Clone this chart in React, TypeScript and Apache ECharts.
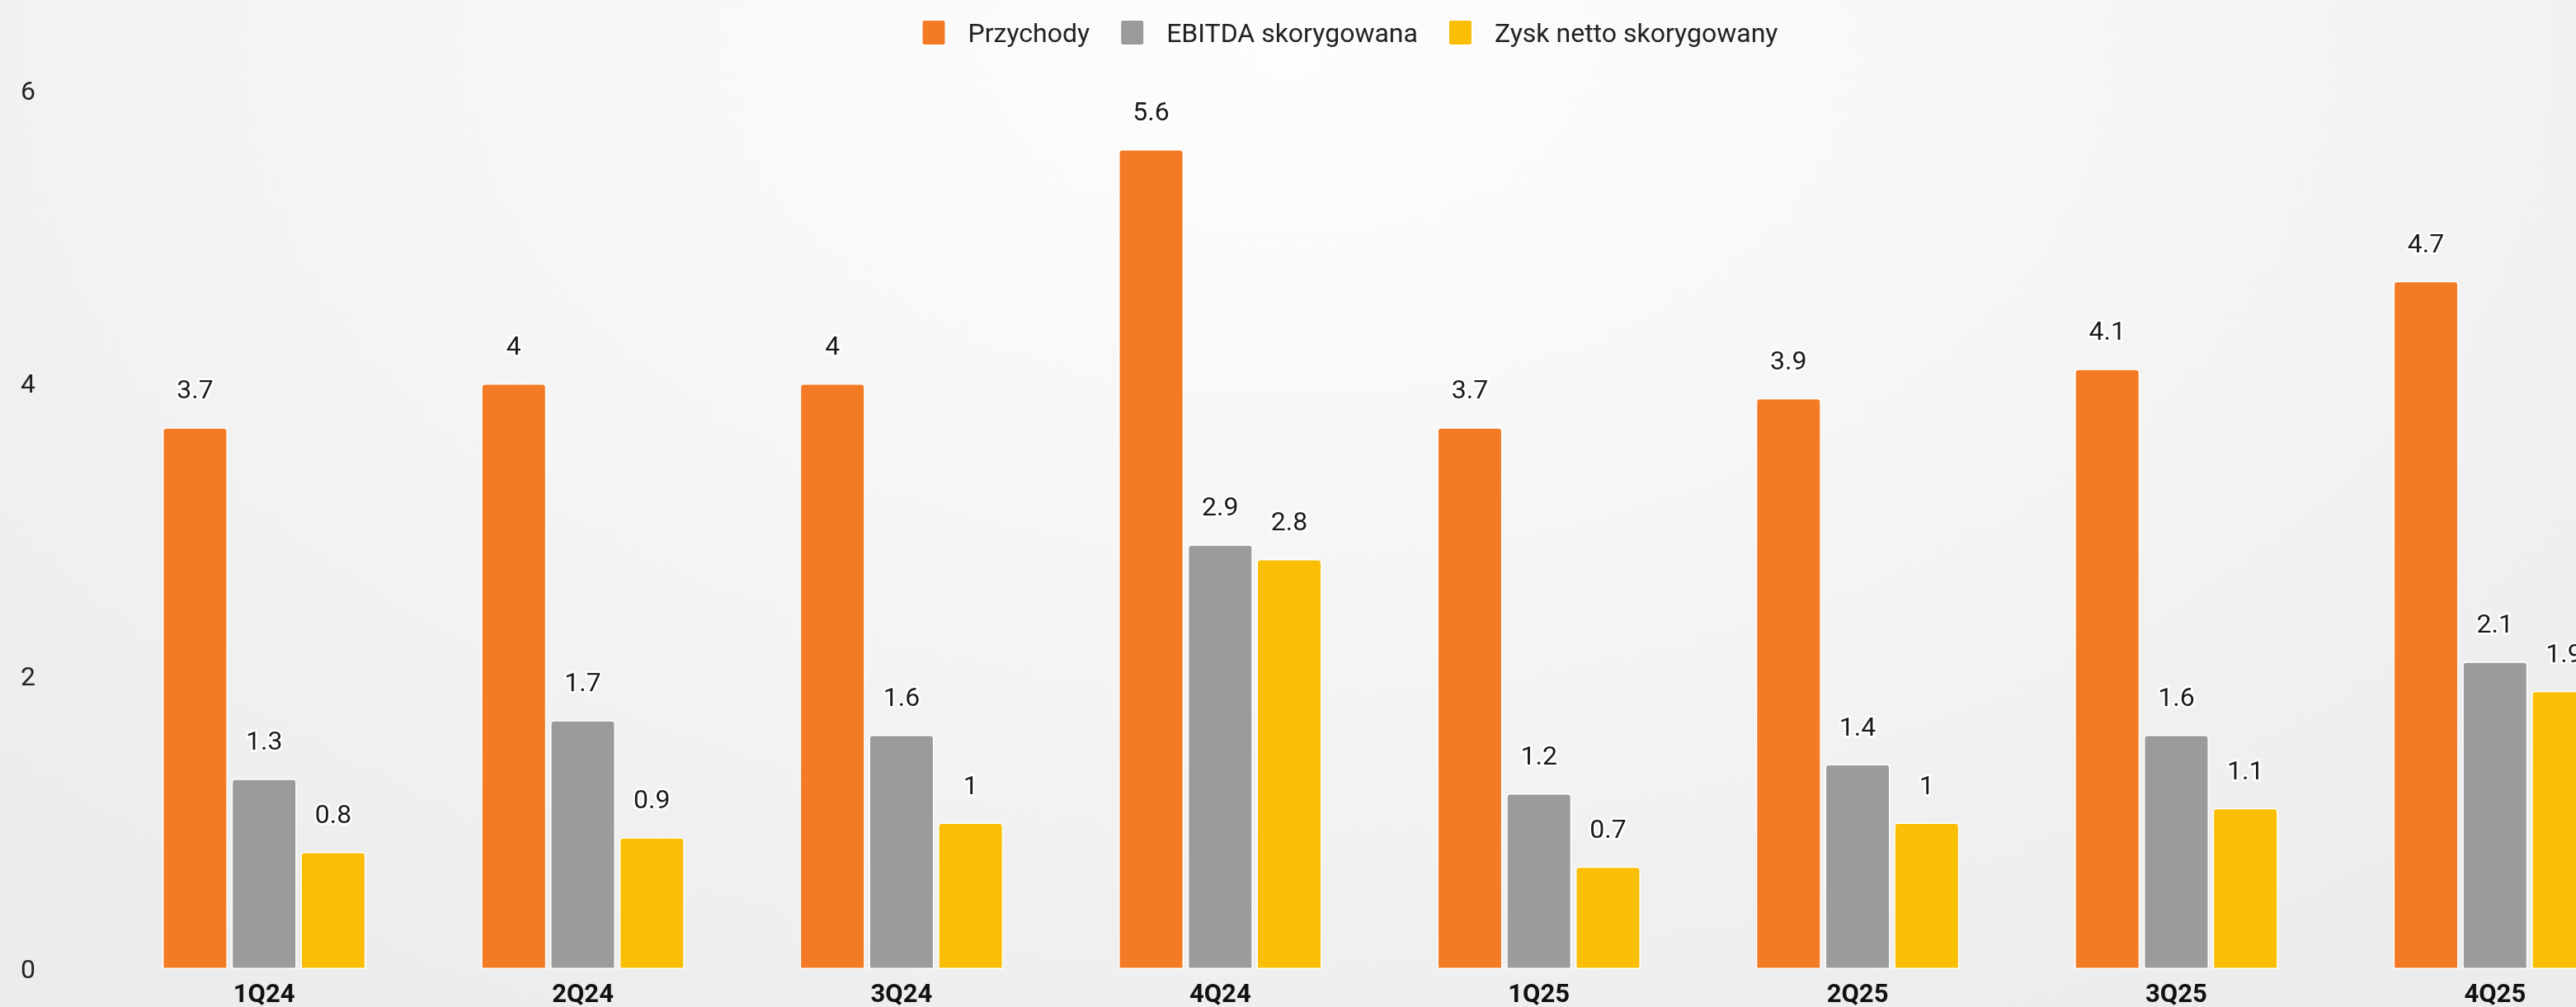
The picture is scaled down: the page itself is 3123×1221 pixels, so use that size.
import React, { useEffect, useRef } from "react";
import * as echarts from "echarts";

const categories = ["1Q24", "2Q24", "3Q24", "4Q24", "1Q25", "2Q25", "3Q25", "4Q25"];
const seriesNames = ["Przychody", "EBITDA skorygowana", "Zysk netto skorygowany"];
const revenue = [3.7, 4, 4, 5.6, 3.7, 3.9, 4.1, 4.7];
const ebitda = [1.3, 1.7, 1.6, 2.9, 1.2, 1.4, 1.6, 2.1];
const netProfit = [0.8, 0.9, 1, 2.8, 0.7, 1, 1.1, 1.9];
const colors = ["#F47B25", "#9B9B9B", "#FABE05"];

export default function App() {
  const ref = useRef<HTMLDivElement>(null);
  useEffect(() => {
    if (!ref.current) return;
    const chart = echarts.init(ref.current, undefined, { renderer: "svg" });
    const font = "Roboto";
    const mk = (name: string, data: number[], color: string) => ({
      name,
      type: "bar",
      data,
      barWidth: 79,
      barGap: "6%",
      itemStyle: { color, borderColor: "#ffffff", borderWidth: 1.5, borderRadius: [4, 4, 0, 0] },
      label: {
        show: true,
        position: "top",
        distance: 30,
        color: "#1a1a1a",
        fontSize: 32,
        fontFamily: font,
        textBorderColor: "#ffffff",
        textBorderWidth: 5,
      },
    });
    chart.setOption({
      animation: false,
      color: colors,
      backgroundColor: "transparent",
      legend: {
        top: 18,
        left: "center",
        itemWidth: 29,
        itemHeight: 31,
        itemGap: 36,
        icon: "path://M3,0 H26 Q29,0 29,3 V28 Q29,31 26,31 H3 Q0,31 0,28 V3 Q0,0 3,0 Z",
        textStyle: { fontSize: 32, fontFamily: font, color: "#222", padding: [0, 0, 0, 22] },
        data: seriesNames,
      },
      grid: { left: 127, right: 54, top: 110, bottom: 46, containLabel: false },
      xAxis: {
        type: "category",
        data: categories,
        axisLine: { show: false },
        axisTick: { show: false },
        axisLabel: {
          fontSize: 31,
          lineHeight: 30,
          fontWeight: "bold",
          fontFamily: font,
          color: "#111",
          margin: 14,
        },
      },
      yAxis: {
        type: "value",
        min: 0,
        max: 6,
        interval: 2,
        splitLine: { show: false },
        axisLine: { show: false },
        axisTick: { show: false },
        axisLabel: { fontSize: 32, fontFamily: font, color: "#222", margin: 84 },
      },
      series: [
        mk(seriesNames[0], revenue, colors[0]),
        mk(seriesNames[1], ebitda, colors[1]),
        mk(seriesNames[2], netProfit, colors[2]),
      ],
    });
    return () => chart.dispose();
  }, []);
  return (
    <div
      style={{
        position: "fixed",
        left: 0,
        top: 0,
        width: 3123,
        height: 1221,
        overflow: "hidden",
        background: "radial-gradient(ellipse 70% 110% at 50% 5%, #fdfdfd 0%, #f6f6f6 45%, #ececec 100%)",
      }}
    >
      <div ref={ref} style={{ width: 3272, height: 1221 }} />
    </div>
  );
}
